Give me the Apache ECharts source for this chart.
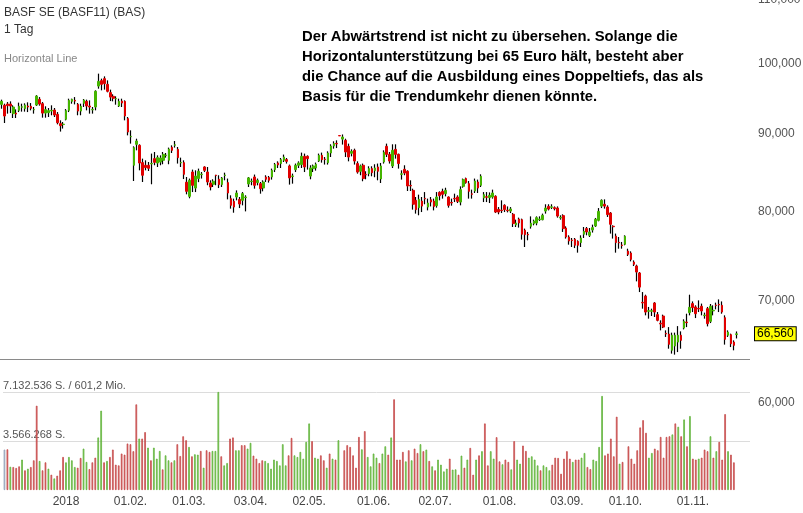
<!DOCTYPE html>
<html><head><meta charset="utf-8">
<script src="https://cdn.jsdelivr.net/npm/echarts@6/dist/echarts.min.js"></script>
<style>html,body{margin:0;padding:0;background:#fff}#c{width:803px;height:513px}</style>
</head><body><div id="c"></div>
<script>
// ---- trading days (Nov 2017 - Nov 2018) ----
const tradingDays = [
  ['2017-11', '29 30'],
  ['2017-12', '01 04 05 06 07 08 11 12 13 14 15 18 19 20 21 22 27 28 29'],
  ['2018-01', '02 03 04 05 08 09 10 11 12 15 16 17 18 19 22 23 24 25 26 29 30 31'],
  ['2018-02', '01 02 05 06 07 08 09 12 13 14 15 16 19 20 21 22 23 26 27 28'],
  ['2018-03', '01 02 05 06 07 08 09 12 13 14 15 16 19 20 21 22 23 26 27 28 29'],
  ['2018-04', '03 04 05 06 09 10 11 12 13 16 17 18 19 20 23 24 25 26 27 30'],
  ['2018-05', '02 03 04 07 08 09 10 11 14 15 16 17 18 21 22 23 24 25 28 29 30 31'],
  ['2018-06', '01 04 05 06 07 08 11 12 13 14 15 18 19 20 21 22 25 26 27 28 29'],
  ['2018-07', '02 03 04 05 06 09 10 11 12 13 16 17 18 19 20 23 24 25 26 27 30 31'],
  ['2018-08', '01 02 03 06 07 08 09 10 13 14 15 16 17 20 21 22 23 24 27 28 29 30 31'],
  ['2018-09', '03 04 05 06 07 10 11 12 13 14 17 18 19 20 21 24 25 26 27 28'],
  ['2018-10', '01 02 03 04 05 08 09 10 11 12 15 16 17 18 19 22 23 24 25 26 29 30 31'],
  ['2018-11', '01 02 05 06 07 08 09 12 13 14 15 16 19 20 21 22']
];

// ---- daily candles [open, close, low, high] in EUR ----
const candles = [
 [94.01,94.44,93.40,94.68],[93.88,92.38,91.41,94.11],[94.06,93.83,92.71,94.34],[94.06,93.78,92.79,94.44],[92.71,93.64,92.10,93.88],
 [92.79,92.65,92.10,93.31],[93.17,93.74,92.93,94.26],[93.61,93.67,92.99,94.11],[93.41,93.92,92.99,94.16],[93.78,93.64,92.93,94.30],
 [93.74,93.45,93.17,94.20],[93.24,93.30,92.71,93.64],[93.92,95.19,93.78,95.33],[94.73,94.06,93.83,95.05],[94.11,92.79,92.15,94.34],
 [92.79,93.27,92.15,93.74],[92.85,93.13,92.24,93.50],[93.08,93.16,92.48,93.88],[93.21,92.52,92.24,93.50],[92.61,91.46,91.23,92.93],
 [91.33,91.05,90.24,91.78],[91.20,91.26,90.65,91.55],[91.92,93.13,91.78,93.35],[93.17,94.58,92.93,94.82],[94.44,94.73,94.11,94.82],
 [94.58,94.48,94.01,95.05],[94.01,93.07,92.48,94.20],[93.07,93.74,92.48,94.11],[94.16,94.63,93.64,94.77],[94.44,93.78,93.17,94.68],
 [93.78,93.64,92.71,94.58],[93.24,93.30,92.71,93.64],[93.64,95.88,93.17,96.02],[96.64,97.32,96.26,98.46],[97.43,96.89,96.02,97.72],
 [97.72,96.99,96.12,98.06],[96.89,95.88,95.73,97.47],[95.69,95.05,94.48,96.12],[95.16,94.87,94.44,95.45],[94.80,94.85,93.97,95.16],
 [93.78,94.44,93.64,94.82],[94.48,94.20,93.64,94.82],[94.44,92.38,91.78,94.58],[92.02,90.18,89.73,92.24],[89.54,89.59,88.62,90.41],
 [85.78,88.09,83.77,88.26],[88.53,88.97,87.73,89.28],[88.39,86.07,85.13,88.53],[86.12,84.50,83.65,86.64],[85.78,85.48,85.13,86.42],
 [85.78,85.39,85.04,86.20],[85.96,86.02,83.36,87.30],[86.64,86.16,85.78,87.51],[86.07,86.77,85.56,87.07],[86.20,86.72,85.78,87.07],
 [86.42,87.20,85.91,87.51],[87.04,87.10,86.77,87.38],[86.42,87.90,85.91,88.09],[88.13,87.73,87.38,88.39],[88.40,88.46,88.09,88.97],
 [87.86,86.77,86.00,88.17],[86.09,86.15,85.56,86.77],[86.12,84.62,84.02,86.42],[83.62,82.48,82.11,84.28],[81.86,83.86,81.62,84.08],
 [84.91,83.23,82.39,85.22],[82.89,84.40,82.39,85.13],[84.08,85.01,83.63,85.35],[84.58,84.64,84.08,84.91],[85.56,85.13,84.91,85.65],
 [84.91,83.65,83.24,85.56],[83.52,83.02,82.60,83.86],[83.36,83.74,83.02,83.99],[84.52,84.46,83.24,84.55],[83.99,83.32,82.89,84.50],
 [83.32,84.16,83.02,84.28],[84.47,84.53,83.86,84.83],[83.57,82.27,81.49,84.08],[81.58,80.76,80.36,81.99],[81.25,80.55,79.87,81.58],
 [81.78,82.27,81.37,82.60],[81.49,80.92,80.43,81.78],[81.37,82.19,80.76,82.39],[81.71,81.77,80.03,81.99],[83.40,84.16,83.02,84.28],
 [83.70,83.76,83.24,84.08],[84.28,83.23,82.81,84.59],[83.57,83.86,83.23,84.08],[83.44,82.81,82.19,83.65],[82.89,83.65,82.48,83.86],
 [84.28,83.99,83.65,84.50],[84.21,83.86,83.57,84.41],[84.28,85.13,83.95,85.35],[85.22,85.87,84.91,86.08],[86.08,85.82,85.43,86.29],
 [86.00,86.51,85.43,86.72],[86.42,86.85,86.20,87.17],[86.51,86.29,86.00,86.72],[85.69,84.16,83.32,85.87],[84.35,84.41,83.44,84.71],
 [85.22,85.78,84.91,86.00],[85.78,86.08,85.43,86.29],[85.87,86.94,85.43,87.43],[86.94,85.56,84.91,87.30],[86.94,86.64,85.22,87.07],
 [84.40,85.43,83.99,85.78],[85.35,85.69,84.91,85.87],[85.43,85.91,85.09,86.13],[86.33,87.07,86.20,87.30],[87.07,86.51,86.12,87.43],
 [86.58,86.52,85.87,86.85],[86.12,87.38,85.87,87.60],[87.38,88.30,86.85,88.53],[88.30,88.62,87.95,88.93],[88.65,88.59,88.03,89.06],
 [89.70,89.66,89.66,89.70],[89.23,89.50,88.49,89.85],[89.06,87.51,86.85,89.28],[88.26,86.85,86.29,88.62],[87.34,87.60,86.94,87.86],
 [87.73,86.33,85.87,87.95],[86.00,84.91,84.71,86.29],[85.01,85.69,84.50,85.87],[85.78,84.08,83.74,86.00],[84.61,84.55,83.99,85.01],
 [84.71,85.35,84.37,85.65],[85.35,84.83,84.37,85.65],[85.09,85.43,84.25,85.91],[85.56,85.01,83.86,86.00],[84.03,85.69,83.52,86.08],
 [86.20,87.47,86.00,87.73],[88.26,87.20,86.85,88.62],[87.20,86.33,86.00,87.51],[85.69,87.73,85.43,88.53],[87.86,87.20,86.64,88.53],
 [87.20,86.00,85.35,87.30],[84.62,84.68,83.95,85.13],[85.26,84.78,84.50,85.78],[85.01,83.15,82.52,85.13],[83.22,83.16,82.52,83.86],
 [82.60,80.89,80.24,82.81],[81.37,80.24,79.76,81.78],[80.48,81.49,79.56,82.07],[81.28,80.67,79.95,81.78],[81.61,81.55,80.89,82.39],
 [80.55,81.04,80.15,81.58],[81.45,81.16,80.63,81.78],[81.28,80.63,80.15,81.58],[80.72,81.78,80.48,82.39],[82.35,81.94,81.37,82.48],
 [82.48,82.11,81.58,82.81],[82.19,82.60,81.86,82.93],[81.78,80.76,80.48,81.86],[81.11,81.05,80.72,81.58],[81.61,81.55,81.16,82.19],
 [81.78,81.25,81.04,81.99],[81.16,82.69,80.76,83.10],[83.10,83.95,82.93,84.08],[84.08,83.57,83.44,84.20],[83.44,82.48,81.58,83.77],
 [82.17,82.11,81.58,82.69],[82.52,83.77,82.27,84.08],[83.65,82.89,82.27,83.95],[83.23,84.37,83.02,84.62],[81.66,82.07,81.16,82.39],
 [81.81,81.75,81.16,82.39],[81.70,81.99,81.04,82.35],[81.78,82.27,81.58,82.69],[81.86,79.95,79.83,81.99],[80.27,79.95,79.68,80.55],
 [80.18,80.12,79.83,81.37],[80.76,80.24,79.95,80.89],[80.18,80.12,79.91,80.63],[80.07,80.32,79.83,80.55],[79.68,78.57,78.17,79.83],
 [78.41,78.64,78.17,79.04],[79.11,78.64,78.10,79.28],[79.04,77.32,76.70,79.16],[77.78,77.28,75.85,77.98],[77.31,77.25,76.62,77.59],
 [78.25,78.61,77.98,79.43],[78.57,78.88,78.37,79.04],[78.64,79.28,78.37,79.43],[79.05,79.11,78.88,79.43],[79.04,79.56,78.96,79.76],
 [80.07,80.43,79.76,80.89],[80.63,80.31,80.15,80.89],[80.52,80.58,80.31,80.89],[80.48,80.36,80.15,80.63],[80.43,79.47,79.28,80.63],
 [79.25,79.31,79.04,79.56],[79.52,77.98,77.59,79.68],[78.05,77.00,76.82,78.25],[77.00,76.54,76.12,77.20],[76.65,76.59,75.85,76.89],
 [76.74,76.05,75.73,76.89],[76.50,76.05,75.21,76.62],[76.36,76.89,75.85,77.20],[77.32,77.66,76.89,78.17],[77.98,77.59,77.20,78.17],
 [77.20,77.59,77.00,78.05],[77.82,78.10,77.52,78.45],[78.29,79.08,78.17,79.24],[78.96,80.03,78.84,80.43],[80.67,81.37,80.43,81.49],
 [80.89,80.67,80.36,81.49],[80.55,79.64,79.36,80.76],[79.83,78.49,77.40,79.95],[78.26,78.20,76.82,78.37],[77.11,76.36,75.21,77.40],
 [76.39,76.33,75.66,77.00],[76.08,76.02,75.66,76.43],[76.16,77.09,76.05,77.20],[75.39,75.02,74.83,75.66],[75.17,74.45,74.23,75.36],
 [74.15,73.90,73.71,74.34],[73.71,73.05,72.03,73.86],[72.94,71.41,70.88,73.05],[69.79,69.73,69.13,70.88],[70.45,68.78,68.44,70.60],
 [68.86,68.92,68.10,69.31],[68.86,68.92,68.37,69.13],[69.72,68.78,68.27,69.82],[68.51,67.93,67.83,68.78],[67.62,67.56,66.91,67.93],
 [68.37,67.24,67.14,68.51],[66.61,66.55,66.25,66.91],[66.54,65.52,65.09,67.24],[64.93,66.42,64.61,66.68],[65.35,66.42,64.51,66.68],
 [65.74,66.42,64.76,67.34],[66.42,65.91,65.09,66.81],[67.14,67.83,67.01,68.03],[67.75,67.69,67.24,68.61],[68.72,69.27,68.44,70.60],
 [69.66,69.24,68.78,69.89],[69.31,68.61,68.16,69.48],[69.16,69.10,68.78,70.00],[69.38,68.89,68.44,69.66],[68.41,68.47,68.10,68.72],
 [69.13,67.59,67.31,69.31],[67.83,69.38,67.65,69.62],[68.90,68.96,68.44,69.48],[69.51,69.45,69.06,69.76],[69.58,69.52,68.78,70.10],
 [69.48,68.78,68.61,69.89],[68.20,66.01,65.49,68.44],[66.42,66.74,66.25,66.91],[66.48,65.58,65.25,66.58],[65.74,65.42,64.93,65.91],
 [66.50,66.56,66.10,66.80]
];

// ---- daily volume (shares) ----
const volumes = [
 2940000,2960000,1690000,1670000,1600000,1720000,2210000,1430000,1550000,1670000,
 2160000,6130000,2110000,1430000,2010000,1550000,1110000,840000,1040000,1430000,
 2400000,2010000,2400000,2160000,1670000,1620000,2330000,3010000,2040000,1520000,
 2010000,2350000,3820000,5770000,2010000,2110000,2400000,2940000,1840000,1790000,
 2650000,2570000,3380000,3330000,2820000,6230000,3740000,3740000,4210000,3080000,
 2160000,3080000,2280000,2840000,1500000,2520000,2160000,2010000,2160000,3330000,
 2470000,3910000,3620000,3130000,2450000,2600000,2570000,2840000,1620000,2890000,
 2770000,2840000,2840000,7132536,2450000,1790000,1960000,3740000,3820000,2890000,
 2890000,3260000,3260000,3010000,3430000,2500000,2280000,1960000,2160000,2110000,
 1960000,1550000,2210000,2110000,1790000,3330000,1790000,2520000,3790000,2520000,
 2400000,2770000,2280000,3500000,4840000,3550000,2350000,2280000,2520000,2160000,
 1620000,2650000,2280000,2210000,3620000,null,2890000,3260000,3130000,2520000,
 1620000,3860000,2960000,4280000,2400000,1720000,2650000,2350000,1960000,2650000,
 3180000,2570000,3820000,6600000,2210000,2210000,2770000,2080000,2890000,2160000,
 3010000,2690000,3330000,2820000,2940000,2110000,1720000,1430000,2210000,1840000,
 1350000,1550000,2280000,1480000,1500000,1110000,2500000,1620000,2210000,3060000,
 1110000,2210000,2520000,2820000,4840000,1790000,2820000,2280000,3840000,2080000,
 1870000,2210000,2040000,1500000,3550000,2210000,1910000,3230000,2840000,2350000,
 2450000,2210000,1790000,1430000,1790000,1670000,1430000,1840000,2350000,2330000,
 1180000,2280000,2820000,2280000,2040000,2210000,2210000,2350000,2690000,1670000,
 1520000,2210000,2110000,3130000,6840000,2520000,2650000,3740000,2450000,5330000,
 1910000,2040000,null,3180000,2280000,1910000,2890000,4550000,5080000,4160000,
 2350000,2690000,3010000,2890000,3860000,2350000,3860000,3910000,4040000,4840000,
 4600000,3910000,5130000,3180000,5380000,2280000,2210000,2280000,2350000,2940000,
 2820000,3910000,2350000,2820000,3500000,2210000,5520000,2820000,2570000,2010000,
 null
];
// u = close above previous close, d = below, n = no previous
const volumeDirection = (
 'n d u d d d u d u d  d d u d d u d u d d  d u u u u d d u u d  d d u u d u d d d d  d d d d d d u d d u ' +
 'd u u u d u u d u d  d d d u d u u d u d  d u u u d u u d d u  u d d u u d d d d u  u u u u u u u d d u ' +
 'u u u u u d u u d d  u d u d u d d d d d  d d u d u u u u d u  u d u d d d d u d u  d d u d u d u d u u ' +
 'u u d u u d u d u d  d u d u d d u u d d  u d d u d u u d d u  u u u d u u u d d d  d d d d u d d u u d ' +
 'd u u u u d d d d d  u d u d d d d d d d  u u d d d d d d u d  u d u d u d d u d d  d u d u d d d u d d  u'
).trim().split(/\s+/);

const priceTicks = [60, 70, 80, 90, 100, 110];
const lastPrice = 66.56;
const supportLevel = 64.1;
const volumeMax = 7132536;
const volumeTurnover = '601,2 Mio.';
const dateLabels = {
  '2018-01-02': '2018', '2018-02-01': '01.02.', '2018-03-01': '01.03.', '2018-04-03': '03.04.',
  '2018-05-02': '02.05.', '2018-06-01': '01.06.', '2018-07-02': '02.07.', '2018-08-01': '01.08.',
  '2018-09-03': '03.09.', '2018-10-01': '01.10.', '2018-11-01': '01.11.'
};
const titleLines = ['BASF SE (BASF11) (BAS)', '1 Tag'];
const toolLabel = 'Horizontal Line';
const commentLines = [
  'Der Abwärtstrend ist nicht zu übersehen. Solange die',
  'Horizontalunterstützung bei 65 Euro hält, besteht aber',
  'die Chance auf die Ausbildung eines Doppeltiefs, das als',
  'Basis für die Trendumkehr dienen könnte.'
];

// ---- build ----
const dates = [];
tradingDays.forEach(([m, days]) => days.split(' ').forEach(d => dates.push(m + '-' + d)));
const categories = dates.concat(['', '', '', '']);

const UP = '#45b500', DOWN = '#e10000';
const bodies = candles.map(([o, c]) => [o, c, Math.min(o, c), Math.max(o, c)]);
const volColors = {
  u: { color: '#8fd26a', borderColor: '#58ad30' },
  d: { color: '#e07070', borderColor: '#c04242' },
  n: { color: '#b9c4d6', borderColor: '#8f9db5' }
};
const volData = volumes.map((v, i) => ({ value: v, itemStyle: volColors[volumeDirection[i]] }));

const fmtPrice = v => v.toFixed(3).replace('.', ',');
const fmtDe = n => String(Math.round(n)).replace(/\B(?=(\d{3})+(?!\d))/g, '.');

const AX = '"Liberation Sans", Arial, sans-serif';
const GL = -1, GW = 751;

const chart = echarts.init(document.getElementById('c'), null, { renderer: 'canvas' });
chart.setOption({
  animation: false,
  backgroundColor: '#fff',
  grid: [
    { left: GL, width: GW, top: 0, height: 402.8 },
    { left: GL, width: GW, top: 392, height: 98 }
  ],
  xAxis: [
    { type: 'category', gridIndex: 0, data: categories, boundaryGap: true,
      axisLine: { show: false }, axisTick: { show: false }, axisLabel: { show: false }, splitLine: { show: false } },
    { type: 'category', gridIndex: 1, data: categories, boundaryGap: true,
      axisLine: { show: false }, axisTick: { show: false }, splitLine: { show: false },
      axisLabel: {
        interval: (i, v) => dateLabels[v] !== undefined,
        formatter: v => dateLabels[v] || '',
        color: '#444', fontSize: 12, fontFamily: AX, margin: 6
      } }
  ],
  yAxis: [
    { type: 'log', logBase: 10, gridIndex: 0, min: 60, max: 110, position: 'right',
      axisLine: { show: false }, axisTick: { show: false }, axisLabel: { show: false }, splitLine: { show: false } },
    { type: 'value', gridIndex: 1, min: 0, max: volumeMax, interval: volumeMax / 2, position: 'left',
      axisLine: { show: false }, axisTick: { show: false },
      splitLine: { show: true, showMinLine: false, lineStyle: { color: '#dcdcdc', width: 1 } },
      axisLabel: {
        inside: true, margin: 0, verticalAlign: 'bottom', padding: [0, 0, 1, 0],
        color: '#555', fontSize: 11, fontFamily: AX,
        formatter: v => v >= volumeMax ? fmtDe(v) + ' S. / ' + volumeTurnover : (v > 0 ? fmtDe(v) + ' S.' : '')
      } }
  ],
  series: [
    { type: 'bar', xAxisIndex: 1, yAxisIndex: 1, data: volData, barWidth: 1.6, z: 1,
      itemStyle: { borderWidth: 0.7 } },
    { type: 'candlestick', xAxisIndex: 0, yAxisIndex: 0, data: candles, barWidth: 0.3, z: 2,
      itemStyle: { color: '#000', color0: '#000', borderColor: '#000', borderColor0: '#000', borderWidth: 1.2 } },
    { type: 'candlestick', xAxisIndex: 0, yAxisIndex: 0, data: bodies, barWidth: 2.1, z: 3,
      itemStyle: { color: UP, color0: DOWN, borderColor: UP, borderColor0: DOWN, borderWidth: 1 },
      markLine: {
        silent: true, symbol: ['none', 'none'], animation: false,
        data: priceTicks.map(v => ({
          yAxis: v, lineStyle: { color: 'rgba(0,0,0,0)', width: 0 },
          label: { show: true, position: 'end', distance: 8, formatter: p => fmtPrice(p.value),
                   color: '#555', fontSize: 12, fontFamily: AX }
        })).concat([
          { yAxis: supportLevel, lineStyle: { color: '#8a8a8a', width: 1, type: 'solid' }, label: { show: false } },
          { yAxis: lastPrice, lineStyle: { color: 'rgba(0,0,0,0)', width: 0 },
            label: { show: true, position: 'end', distance: 5, formatter: p => fmtPrice(p.value),
                     color: '#000', fontSize: 12, fontFamily: AX, backgroundColor: '#ffff00',
                     borderColor: '#000', borderWidth: 1, padding: [1, 2, 0, 2] } }
        ])
      } }
  ],
  graphic: [
    { type: 'text', left: 4, top: 7, style: { text: titleLines[0], font: '12px ' + AX, fill: '#333' } },
    { type: 'text', left: 4, top: 24, style: { text: titleLines[1], font: '12px ' + AX, fill: '#333' } },
    { type: 'text', left: 4, top: 53, style: { text: toolLabel, font: '11px ' + AX, fill: '#888' } },
    { type: 'text', left: 302, top: 27, style: { text: commentLines.join('\n'), font: 'bold 14.8px ' + AX,
      lineHeight: 20, fill: '#000' } }
  ]
});
</script></body></html>
